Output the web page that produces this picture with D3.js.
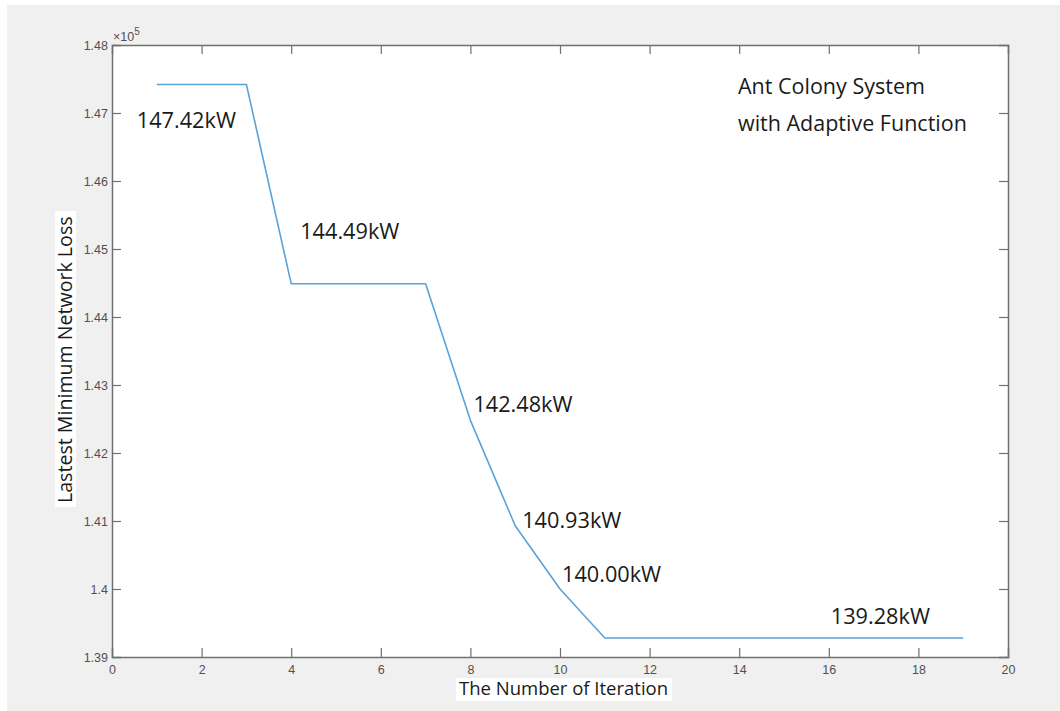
<!DOCTYPE html>
<html>
<head>
<meta charset="utf-8">
<script src="https://cdn.jsdelivr.net/npm/d3@7"></script>
<style>
  html, body { margin: 0; padding: 0; background: #ffffff; }
  svg { display: block; }
</style>
</head>
<body>
<svg id="chart" width="1060" height="711"></svg>
<script>
// Iteration number and best network loss (kW) found so far
const iterations = [1, 2, 3, 4, 5, 6, 7, 8, 9, 10, 11, 12, 13, 14, 15, 16, 17, 18, 19];
const lossKW = [147.42, 147.42, 147.42, 144.49, 144.49, 144.49, 144.49, 142.48, 140.93, 140.00,
                139.28, 139.28, 139.28, 139.28, 139.28, 139.28, 139.28, 139.28, 139.28];

const xTicks = [0, 2, 4, 6, 8, 10, 12, 14, 16, 18, 20];
const yTickLabels = ["1.39", "1.4", "1.41", "1.42", "1.43", "1.44", "1.45", "1.46", "1.47", "1.48"];
const yTicks = [139000, 140000, 141000, 142000, 143000, 144000, 145000, 146000, 147000, 148000];

// Value callouts: which iteration each one annotates
const calloutIters = [1, 4, 8, 9, 10, 16];
// Pixel offsets of each callout from its point (layout only)
const calloutOffsets = [[-20, 44], [9, -45], [3, -8], [7, 2], [2, -7], [2, -14]];

const legendLines = ["Ant Colony System", "with Adaptive Function"];

const svg = d3.select("#chart");
const W = 1060, H = 711;
const m = { left: 112, right: 1008, top: 45, bottom: 657 };

// figure background
svg.append("rect").attr("x", 7).attr("y", 5).attr("width", W - 7).attr("height", H - 5).attr("fill", "#f0f0f0");
svg.append("rect").attr("x", m.left).attr("y", m.top)
  .attr("width", m.right - m.left).attr("height", m.bottom - m.top).attr("fill", "#ffffff");

const x = d3.scaleLinear().domain([0, 20]).range([m.left, m.right]);
const y = d3.scaleLinear().domain([139000, 148000]).range([m.bottom, m.top]);

const axisColor = "#707070";
const tickLen = 9;
const tickFont = "'Liberation Sans', Arial, sans-serif";
const tickSize = "12.5px";

// bottom axis (ticks point inward)
const gx = svg.append("g").attr("transform", `translate(0,${m.bottom})`)
  .call(d3.axisBottom(x).tickValues(xTicks).tickSize(-tickLen).tickPadding(8).tickFormat(d3.format("d")));
// top axis ticks (no labels)
const gxt = svg.append("g").attr("transform", `translate(0,${m.top})`)
  .call(d3.axisTop(x).tickValues(xTicks).tickSize(-tickLen).tickFormat(""));
// left axis
const gy = svg.append("g").attr("transform", `translate(${m.left},0)`)
  .call(d3.axisLeft(y).tickValues(yTicks).tickSize(-tickLen).tickPadding(4)
    .tickFormat((d, i) => yTickLabels[i]));
// right axis ticks
const gyr = svg.append("g").attr("transform", `translate(${m.right},0)`)
  .call(d3.axisRight(y).tickValues(yTicks).tickSize(-tickLen).tickFormat(""));

[gx, gxt, gy, gyr].forEach(g => {
  g.select(".domain").attr("stroke", axisColor).attr("stroke-width", 1.5);
  g.selectAll(".tick line").attr("stroke", axisColor).attr("stroke-width", 1.2);
  g.selectAll(".tick text").attr("fill", "#505050").style("font-family", tickFont).style("font-size", tickSize);
});
// hide tick marks at the box corners
gx.selectAll(".tick").filter(d => d === 0 || d === 20).select("line").remove();
gxt.selectAll(".tick").filter(d => d === 0 || d === 20).select("line").remove();
gy.selectAll(".tick").filter(d => d === 139000 || d === 148000).select("line").remove();
gyr.selectAll(".tick").filter(d => d === 139000 || d === 148000).select("line").remove();

// exponent marker
const expo = svg.append("text").attr("x", m.left + 1).attr("y", m.top - 4)
  .attr("fill", "#505050").style("font-family", tickFont).style("font-size", tickSize);
expo.append("tspan").text("\u00d710");
expo.append("tspan").attr("dy", -6).style("font-size", "10px").text("5");

// the loss curve
const pts = iterations.map((it, i) => [it, lossKW[i] * 1000]);
svg.append("path")
  .datum(pts)
  .attr("fill", "none")
  .attr("stroke", "#5ba2d8")
  .attr("stroke-width", 1.6)
  .attr("stroke-linejoin", "round")
  .attr("d", d3.line().x(d => x(d[0])).y(d => y(d[1])));

const labelFont = "'Open Sans', 'Noto Sans', sans-serif";

// value callouts
calloutIters.forEach((it, i) => {
  const idx = iterations.indexOf(it);
  const v = lossKW[idx];
  svg.append("text")
    .attr("x", x(it) + calloutOffsets[i][0])
    .attr("y", y(v * 1000) + calloutOffsets[i][1])
    .attr("fill", "#1a1a1a")
    .style("font-family", labelFont)
    .style("font-size", "21.7px")
    .text(v.toFixed(2) + "kW");
});

// legend text
legendLines.forEach((t, i) => {
  svg.append("text")
    .attr("x", 738).attr("y", 94 + i * 37)
    .attr("fill", "#1a1a1a")
    .style("font-family", labelFont)
    .style("font-size", "21.5px")
    .text(t);
});

// axis titles on white boxes
svg.append("rect").attr("x", 456).attr("y", 678).attr("width", 216).attr("height", 23).attr("fill", "#ffffff");
svg.append("text").attr("x", 459).attr("y", 695)
  .attr("fill", "#1a1a1a").style("font-family", labelFont).style("font-size", "18.5px")
  .text("The Number of Iteration");

svg.append("rect").attr("x", 55).attr("y", 211).attr("width", 21).attr("height", 296).attr("fill", "#ffffff");
svg.append("text")
  .attr("transform", "translate(72,503) rotate(-90)")
  .attr("fill", "#1a1a1a").style("font-family", labelFont).style("font-size", "19.6px")
  .text("Lastest Minimum Network Loss");
</script>
</body>
</html>
